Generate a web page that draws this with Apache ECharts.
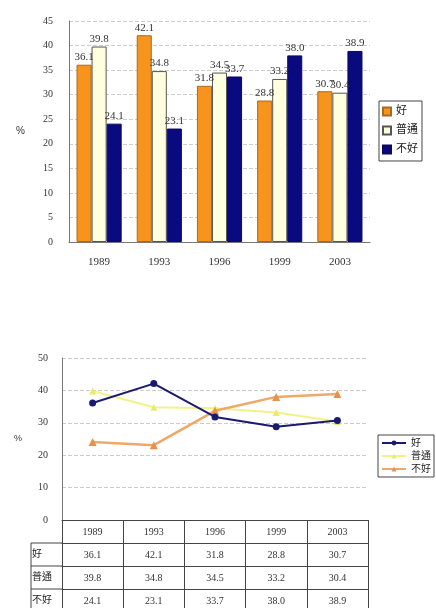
<!DOCTYPE html>
<html>
<head>
<meta charset="utf-8">
<script src="https://cdn.jsdelivr.net/npm/echarts@6/dist/echarts.min.js"></script>
<style>
  html, body { margin: 0; padding: 0; background: #fff; }
  #bar { position: absolute; left: 0; top: 0; width: 436px; height: 300px; }
  #line { position: absolute; left: 0; top: 300px; width: 436px; height: 308px; }
</style>
</head>
<body>
<div id="bar"></div>
<div id="line"></div>
<script>
// data
var years = ["1989", "1993", "1996", "1999", "2003"];
var good = [36.1, 42.1, 31.8, 28.8, 30.7];
var normal = [39.8, 34.8, 34.5, 33.2, 30.4];
var bad = [24.1, 23.1, 33.7, 38.0, 38.9];
var seriesNames = ["好", "普通", "不好"];

var serif = '"Liberation Serif", "Noto Sans CJK TC", serif';
var fmt = function (v) { return v.toFixed(1); };

// ---------- top: bar chart ----------
var barChart = echarts.init(document.getElementById("bar"));
var labelStyle = {
  show: true,
  position: "top",
  distance: 2,
  color: "#333",
  fontFamily: serif,
  fontSize: 11,
  formatter: function (p) { return fmt(p.value); }
};
barChart.setOption({
  animation: false,
  grid: { left: 69, right: 66, top: 21, bottom: 58 },
  legend: {
    orient: "vertical",
    left: 379,
    top: 101,
    icon: "rect",
    itemWidth: 8,
    itemHeight: 8,
    itemGap: 8,
    padding: [5, 4, 6, 3],
    borderColor: "#444",
    borderWidth: 1,
    textStyle: { fontSize: 11, color: "#222", fontFamily: serif },
    data: seriesNames
  },
  xAxis: {
    type: "category",
    data: years,
    axisLine: { lineStyle: { color: "#777" } },
    axisTick: { show: false },
    axisLabel: { color: "#333", fontFamily: serif, fontSize: 11, margin: 15 }
  },
  yAxis: {
    type: "value",
    min: 0,
    max: 45,
    interval: 5,
    name: "%",
    nameLocation: "middle",
    nameGap: 44,
    nameRotate: 0,
    nameTextStyle: { color: "#333", fontSize: 10 },
    axisLine: { show: true, lineStyle: { color: "#777" } },
    axisTick: { show: false },
    axisLabel: { color: "#333", fontFamily: serif, fontSize: 10, margin: 16 },
    splitLine: { lineStyle: { color: "#ccc", type: "dashed" } }
  },
  series: [
    {
      name: seriesNames[0], type: "bar", data: good,
      barGap: "0%", barCategoryGap: "25%",
      itemStyle: { color: "#f7941d", borderColor: "#a86a20", borderWidth: 1 },
      label: labelStyle
    },
    {
      name: seriesNames[1], type: "bar", data: normal,
      itemStyle: { color: "#ffffe0", borderColor: "#555", borderWidth: 1 },
      label: labelStyle
    },
    {
      name: seriesNames[2], type: "bar", data: bad,
      itemStyle: { color: "#0a0a80", borderColor: "#0a0a60", borderWidth: 1 },
      label: labelStyle
    }
  ]
});

// ---------- bottom: line chart with data table ----------
var lineChart = echarts.init(document.getElementById("line"));
var rowH = 23;
var tableLine = { color: "#444", width: 1 };
function rowAxis(name, values, idx) {
  return {
    type: "category",
    position: "bottom",
    offset: rowH * idx,
    data: values.map(fmt),
    name: name,
    nameLocation: "start",
    nameGap: 30,
    nameTextStyle: {
      align: "left", verticalAlign: "top", padding: [6, 0, 0, 0],
      color: "#222", fontSize: 10, fontFamily: serif
    },
    axisLine: { show: true, lineStyle: tableLine },
    axisTick: { show: true, interval: 0, length: rowH, lineStyle: tableLine },
    axisLabel: { color: "#333", fontFamily: serif, fontSize: 10, margin: 7, interval: 0 }
  };
}
lineChart.setOption({
  animation: false,
  grid: { left: 62, right: 68, top: 58, bottom: 88 },
  legend: {
    orient: "vertical",
    left: 378,
    top: 135,
    itemWidth: 24,
    itemHeight: 6,
    itemGap: 3,
    padding: [3, 3, 3, 3],
    borderColor: "#444",
    borderWidth: 1,
    textStyle: { fontSize: 10, color: "#222", fontFamily: serif },
    data: seriesNames
  },
  xAxis: [
    {
      type: "category",
      position: "bottom",
      data: years,
      axisLine: { show: true, lineStyle: tableLine },
      axisTick: { show: true, interval: 0, length: rowH, lineStyle: tableLine },
      axisLabel: { color: "#333", fontFamily: serif, fontSize: 10, margin: 7 }
    },
    rowAxis(seriesNames[0], good, 1),
    rowAxis(seriesNames[1], normal, 2),
    rowAxis(seriesNames[2], bad, 3)
  ],
  yAxis: {
    type: "value",
    min: 0,
    max: 50,
    interval: 10,
    name: "%",
    nameLocation: "middle",
    nameGap: 40,
    nameRotate: 0,
    nameTextStyle: { color: "#333", fontSize: 9 },
    axisLine: { show: true, lineStyle: { color: "#777" } },
    axisTick: { show: false },
    axisLabel: { color: "#333", fontFamily: serif, fontSize: 10, margin: 14 },
    splitLine: { lineStyle: { color: "#ccc", type: "dashed" } }
  },
  graphic: [
    {
      type: "polyline",
      shape: { points: [[62, 243], [31, 243], [31, 308]] },
      style: { stroke: "#444", lineWidth: 1, fill: null }
    },
    {
      type: "line",
      shape: { x1: 31, y1: 266, x2: 62, y2: 266 },
      style: { stroke: "#444", lineWidth: 1 }
    },
    {
      type: "line",
      shape: { x1: 31, y1: 289, x2: 62, y2: 289 },
      style: { stroke: "#444", lineWidth: 1 }
    }
  ],
  series: [
    {
      name: seriesNames[0], type: "line", data: good, z: 4,
      symbol: "circle", symbolSize: 7,
      lineStyle: { color: "#1a1a6e", width: 2 },
      itemStyle: { color: "#1a1a6e" }
    },
    {
      name: seriesNames[1], type: "line", data: normal, z: 2,
      symbol: "triangle", symbolSize: 7,
      lineStyle: { color: "#f2f28a", width: 2 },
      itemStyle: { color: "#eaea70" }
    },
    {
      name: seriesNames[2], type: "line", data: bad, z: 3,
      symbol: "triangle", symbolSize: 8,
      lineStyle: { color: "#f0a868", width: 2.5 },
      itemStyle: { color: "#e89050" }
    }
  ]
});
</script>
</body>
</html>
